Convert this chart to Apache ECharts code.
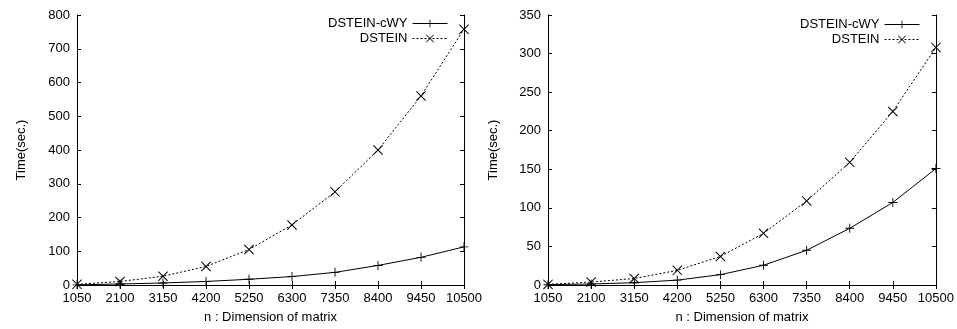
<!DOCTYPE html>
<html>
<head>
<meta charset="utf-8">
<script src="https://cdn.jsdelivr.net/npm/echarts@6/dist/echarts.min.js"></script>
<style>
  html, body { margin: 0; padding: 0; background: #fff; }
  #chart { width: 957px; height: 329px; }
</style>
</head>
<body>
<div id="chart"></div>
<script>
// matrix sizes (x axis) shared by both panels
const sizes = [1050, 2100, 3150, 4200, 5250, 6300, 7350, 8400, 9450, 10500];

// left panel, times in seconds
const leftCwy = [0.5, 3, 6, 10.5, 17, 25, 37.5, 58, 82, 113];
const leftDstein = [2, 10.5, 26, 55, 105, 178, 276, 400, 560, 758];

// right panel, times in seconds
const rightCwy = [0.4, 1.3, 3, 6.3, 13.4, 25.6, 45, 73.5, 107, 151];
const rightDstein = [0.8, 3.8, 8.4, 19, 37, 67, 109, 159, 225, 308];

const FONT = 'Liberation Sans, Arial, sans-serif';

// plus and cross markers as filled paths
const plusMark = 'path://M0,4.5H10V5.5H0Z M4.5,0H5.5V10H4.5Z';
const crossMark = 'path://M0,0.7L0.7,0L10,9.3L9.3,10Z M9.3,0L10,0.7L0.7,10L0,9.3Z';

const pairs = (ys) => sizes.map((n, i) => [n, ys[i]]);

const chart = echarts.init(document.getElementById('chart'));

function bottomX(grid) {
  return {
    type: 'value', gridIndex: grid, min: 1050, max: 10500, interval: 1050,
    name: 'n : Dimension of matrix', nameLocation: 'middle', nameGap: 26,
    nameTextStyle: { color: '#000', fontSize: 13, fontFamily: FONT },
    axisLine: { lineStyle: { color: '#000', width: 1 } },
    axisTick: { inside: true, length: 4, lineStyle: { color: '#000' } },
    axisLabel: { color: '#000', fontSize: 13, fontFamily: FONT, margin: 7,
                 formatter: (v) => String(v),
                 showMinLabel: true, showMaxLabel: true, hideOverlap: false },
    splitLine: { show: false }
  };
}
function topX(grid) {
  return {
    type: 'value', gridIndex: grid, position: 'top', min: 1050, max: 10500, interval: 1050,
    axisLine: { lineStyle: { color: '#000', width: 1 } },
    axisTick: { inside: true, length: 4, lineStyle: { color: '#000' } },
    axisLabel: { show: false }, splitLine: { show: false }
  };
}
function leftY(grid, max, step, gap) {
  return {
    type: 'value', gridIndex: grid, min: 0, max: max, interval: step,
    name: 'Time(sec.)', nameLocation: 'middle', nameGap: gap, nameRotate: 90,
    nameTextStyle: { color: '#000', fontSize: 13, fontFamily: FONT },
    axisLine: { show: true, lineStyle: { color: '#000', width: 1 } },
    axisTick: { show: true, inside: true, length: 4, lineStyle: { color: '#000' } },
    axisLabel: { color: '#000', fontSize: 13, fontFamily: FONT, margin: 7 },
    splitLine: { show: false }
  };
}
function rightY(grid, max, step) {
  return {
    type: 'value', gridIndex: grid, position: 'right', min: 0, max: max, interval: step,
    axisLine: { show: true, lineStyle: { color: '#000', width: 1 } },
    axisTick: { show: true, inside: true, length: 4, lineStyle: { color: '#000' } },
    axisLabel: { show: false }, splitLine: { show: false }
  };
}
function series(name, ys, axis, dotted) {
  return {
    name: name, type: 'line', xAxisIndex: axis, yAxisIndex: axis,
    data: pairs(ys),
    symbol: dotted ? crossMark : plusMark, symbolSize: dotted ? 10 : 9,
    showAllSymbol: true, smooth: false, z: dotted ? 3 : 2,
    lineStyle: { color: '#000', width: 1, type: dotted ? [2, 2] : 'solid' },
    itemStyle: { color: '#000' }
  };
}
function legend(name, right, top, dotted) {
  return {
    data: [name], orient: 'vertical', align: 'right', right: right, top: top,
    padding: 0, itemWidth: 35, itemHeight: 10, itemGap: 0,
    lineStyle: { color: '#000', width: 1, type: dotted ? [2, 2] : 'solid' },
    itemStyle: { color: '#000' },
    textStyle: { color: '#000', fontSize: 13, fontFamily: FONT },
    selectedMode: false
  };
}

chart.setOption({
  animation: false,
  backgroundColor: '#fff',
  grid: [
    { left: 77, top: 15, width: 387, height: 276 },
    { left: 548, top: 15, width: 388, height: 276 }
  ],
  xAxis: [bottomX(0), bottomX(1), topX(0), topX(1)],
  yAxis: [leftY(0, 800, 100, 49), leftY(1, 350, 50, 48), rightY(0, 800, 100), rightY(1, 350, 50)],
  legend: [
    legend('DSTEIN-cWY', 509, 17, false),
    legend('DSTEIN', 509, 32, true),
    legend('DSTEIN-cWY', 37, 18, false),
    legend('DSTEIN', 37, 33, true)
  ],
  series: [
    series('DSTEIN-cWY', leftCwy, 0, false),
    series('DSTEIN', leftDstein, 0, true),
    series('DSTEIN-cWY', rightCwy, 1, false),
    series('DSTEIN', rightDstein, 1, true)
  ]
});
</script>
</body>
</html>
